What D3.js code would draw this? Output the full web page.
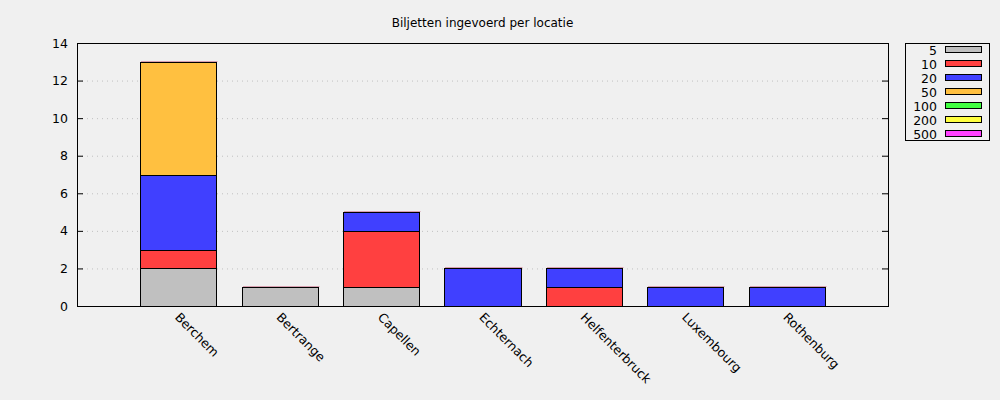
<!DOCTYPE html>
<html><head><meta charset="utf-8">
<script src="https://cdn.jsdelivr.net/npm/d3@7"></script>
<style>body{margin:0;background:#f0f0f0;}svg{display:block;font-family:"DejaVu Sans",sans-serif;}</style>
</head><body><svg id="c" width="1000" height="400"></svg>
<script>
const categories = ["Berchem","Bertrange","Capellen","Echternach","Helfenterbruck","Luxembourg","Rothenburg"];
const seriesNames = ["5","10","20","50","100","200","500"];
const seriesColors = ["#c0c0c0","#ff4040","#4040ff","#ffc040","#40ff40","#ffff40","#ff40ff"];
const s5   = [2,1,1,0,0,0,0];
const s10  = [1,0,3,0,1,0,0];
const s20  = [4,0,1,2,1,1,1];
const s50  = [6,0,0,0,0,0,0];
const s100 = [0,0,0,0,0,0,0];
const s200 = [0,0,0,0,0,0,0];
const s500 = [0,0,0,0,0,0,0];
const yTicks = [0,2,4,6,8,10,12,14];
const title = "Biljetten ingevoerd per locatie";

const series = [s5,s10,s20,s50,s100,s200,s500];
const svg = d3.select("#c");
const L=77, R=888, T=43, B=306;
const x = d3.scaleLinear().domain([-1, categories.length]).range([L, R]);
const y = d3.scaleLinear().domain([0,14]).range([B, T]);
const bw = 0.75;

svg.append("rect").attr("width",1000).attr("height",400).attr("fill","#f0f0f0");

// grid
svg.append("g").selectAll("line").data(yTicks.filter(d=>d>0&&d<14)).join("line")
  .attr("x1",L).attr("x2",R).attr("y1",d=>y(d)+0.5).attr("y2",d=>y(d)+0.5)
  .attr("stroke","#c0c0c0").attr("stroke-width",1).attr("stroke-dasharray","1,4");

// stacks
const rows = categories.map((c,i)=>{const o={cat:c,i:i}; seriesNames.forEach((s,k)=>o[s]=series[k][i]); return o;});
const stacked = d3.stack().keys(seriesNames)(rows);
stacked.forEach((layer,k)=>{
  svg.append("g").selectAll("rect").data(layer.filter(d=>d[1]-d[0]>0)).join("rect")
    .attr("x",d=>Math.round(x(d.data.i-bw/2))+0.5)
    .attr("y",d=>Math.round(y(d[1]))+0.5)
    .attr("width",d=>Math.round(x(d.data.i+bw/2))-Math.round(x(d.data.i-bw/2)))
    .attr("height",d=>Math.round(y(d[0]))-Math.round(y(d[1])))
    .attr("fill",seriesColors[k]).attr("stroke","#000").attr("stroke-width",1);
});
// faint top edge artifact of zero-height segments
const topLayer = stacked[stacked.length-1];
svg.append("g").selectAll("line").data(topLayer).join("line")
  .attr("x1",d=>Math.round(x(d.data.i-bw/2))+1)
  .attr("x2",d=>Math.round(x(d.data.i+bw/2))+1.5)
  .attr("y1",d=>Math.round(y(d[1]))-0.5).attr("y2",d=>Math.round(y(d[1]))-0.5)
  .attr("stroke","#d8a0b0").attr("stroke-width",1);

// frame
svg.append("rect").attr("x",L+0.5).attr("y",T+0.5).attr("width",R-L).attr("height",B-T)
  .attr("fill","none").attr("stroke","#000").attr("stroke-width",1);

// y axis
const yAxis = d3.axisLeft(y).tickValues(yTicks).tickSize(0).tickPadding(9).tickFormat(d3.format("d"));
const ga = svg.append("g").attr("transform",`translate(${L},0)`).call(yAxis);
ga.select(".domain").remove();
ga.selectAll("text").attr("font-size",12.5).attr("font-family","DejaVu Sans").attr("fill","#000");
// inner ticks both sides
svg.append("g").selectAll("line").data(yTicks.filter(d=>d>0&&d<14)).join("line")
  .attr("x1",L).attr("x2",L+6).attr("y1",d=>y(d)+0.5).attr("y2",d=>y(d)+0.5).attr("stroke","#000");
svg.append("g").selectAll("line").data(yTicks.filter(d=>d>0&&d<14)).join("line")
  .attr("x1",R-6).attr("x2",R).attr("y1",d=>y(d)+0.5).attr("y2",d=>y(d)+0.5).attr("stroke","#000");

// x labels
svg.append("g").selectAll("text").data(categories).join("text")
  .attr("transform",(d,i)=>`translate(${x(i)-1},${B+9}) rotate(45)`)
  .attr("font-size",12.5).attr("fill","#000").attr("dy","0.35em").text(d=>d);

// title
svg.append("text").attr("x",(L+R)/2).attr("y",27).attr("text-anchor","middle")
  .attr("font-size",12).attr("fill","#000").text(title);

// legend
const lg = svg.append("g");
lg.append("rect").attr("x",905.5).attr("y",43.5).attr("width",84).attr("height",97)
  .attr("fill","none").attr("stroke","#000");
seriesNames.forEach((s,k)=>{
  const yy = 50 + k*14;
  lg.append("text").attr("x",937).attr("y",yy+1).attr("dy","0.35em").attr("text-anchor","end")
    .attr("font-size",12.5).attr("fill","#000").text(s);
  lg.append("rect").attr("x",945.5).attr("y",yy-3.5).attr("width",36).attr("height",6)
    .attr("fill",seriesColors[k]).attr("stroke","#000");
});
</script></body></html>
